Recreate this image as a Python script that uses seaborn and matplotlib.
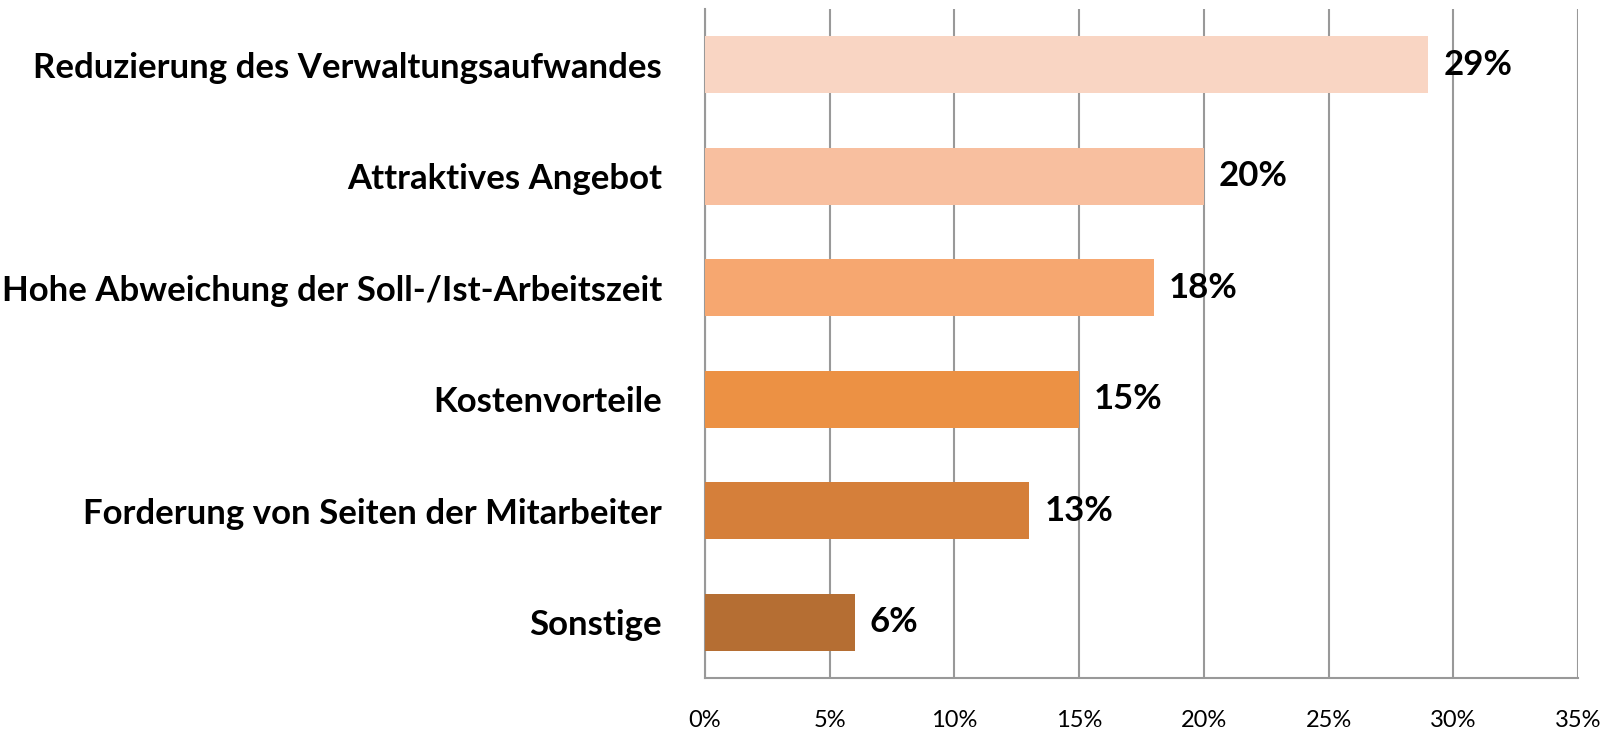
import seaborn as sns
import matplotlib.pyplot as plt
import pandas as pd

categories = [
    "Reduzierung des Verwaltungsaufwandes",
    "Attraktives Angebot",
    "Hohe Abweichung der Soll-/Ist-Arbeitszeit",
    "Kostenvorteile",
    "Forderung von Seiten der Mitarbeiter",
    "Sonstige",
]
values = [29, 20, 18, 15, 13, 6]
colors = ["#F9D5C3", "#F8BF9F", "#F6A770", "#EC9144", "#D57F3A", "#B56E33"]
ticks = [0, 5, 10, 15, 20, 25, 30, 35]

df = pd.DataFrame({"grund": categories, "anteil": values})

sns.set_style("white")
plt.rcParams["font.family"] = ["Lato", "DejaVu Sans"]

fig = plt.figure(figsize=(16.13, 7.31), dpi=100)
ax = fig.add_axes([705 / 1613, 1 - 678 / 731, (1578 - 705) / 1613, (678 - 9) / 731])

sns.barplot(data=df, x="anteil", y="grund", hue="grund", palette=colors,
            legend=False, width=0.51, saturation=1, linewidth=0, ax=ax, zorder=3)

ax.set_xlim(0, 35)
ax.set_xticks(ticks)
ax.set_xticklabels([f"{t}%" for t in ticks], fontsize=17, color="black")
ax.xaxis.grid(True, color="#999999", linewidth=1.5, zorder=0)
ax.set_axisbelow(True)
ax.set_xlabel("")
ax.set_ylabel("")
ax.tick_params(axis="x", length=0, pad=23)
ax.tick_params(axis="y", length=0, pad=31)
for lab in ax.get_yticklabels():
    lab.set_fontsize(25)
    lab.set_fontweight("bold")
    lab.set_color("black")

for s in ["top", "right"]:
    ax.spines[s].set_visible(False)
for s in ["left", "bottom"]:
    ax.spines[s].set_color("#999999")
    ax.spines[s].set_linewidth(1.5)

for i, v in enumerate(values):
    ax.text(v + 0.6, i, f"{v}%", va="center", ha="left",
            fontsize=25, fontweight="bold", color="black")

fig.savefig("out.png", dpi=100)
